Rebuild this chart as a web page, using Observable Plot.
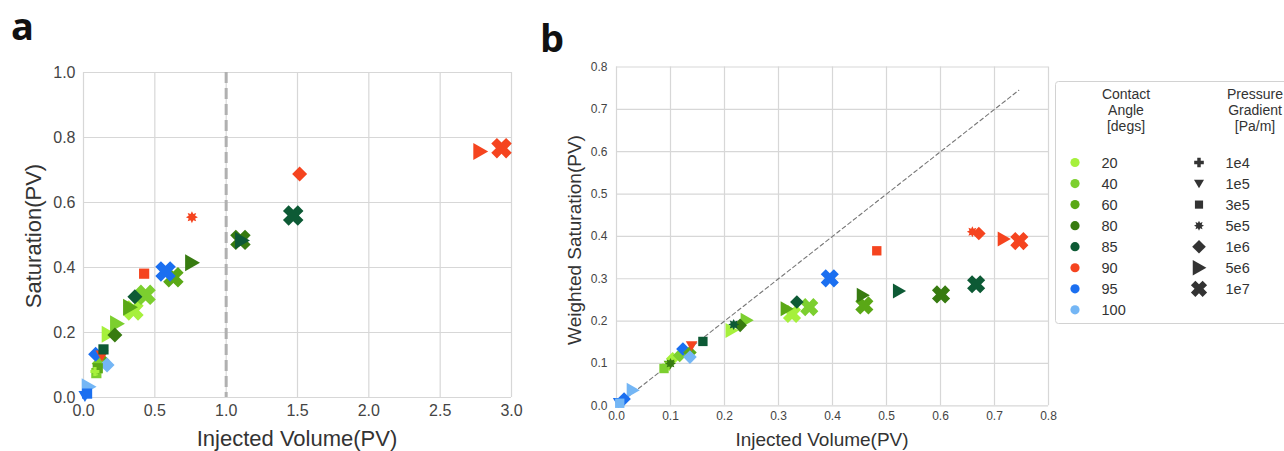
<!DOCTYPE html>
<html><head><meta charset="utf-8">
<script src="https://cdn.jsdelivr.net/npm/d3@7"></script>
<script src="https://cdn.jsdelivr.net/npm/@observablehq/plot@0.6"></script>
<style>
body{margin:0;background:#fff;}
#root{position:relative;width:1284px;height:451px;overflow:hidden;font-family:"Liberation Sans",Arial,sans-serif;color:#222;}
.abs{position:absolute;}
.tag{font-family:"Open Sans","DejaVu Sans",sans-serif;font-weight:700;font-size:38px;line-height:1;color:#111;}
.title{white-space:nowrap;transform-origin:center center;color:#333;}
</style></head><body><div id="root"></div>
<script>
// ---------------- data ----------------
const angles = [20, 40, 60, 80, 85, 90, 95, 100];
const angleColors = ["#a6f03c", "#7ccf2f", "#5aa816", "#377b10", "#0d5a35", "#f5441f", "#1b6ff0", "#74b6f5"];
const pressures = ["1e4", "1e5", "3e5", "5e5", "1e6", "5e6", "1e7"];

// panel a: injected volume vs saturation
const aAngle =    [40,   20,   60,   95,   100,  95,   60,   40,   20,   100,  95,   90,   85,   80,   20,   40,   85,   20,   60,   40,   60,   95,   90,   80,   85,   80,   85,   90,   90,   90];
const aPressure = ["3e5","5e5","3e5","3e5","5e6","1e5","1e6","1e6","1e4","1e6","1e6","1e5","3e5","1e6","5e6","5e6","1e6","1e7","5e6","1e7","1e7","1e7","3e5","5e6","5e6","1e7","1e7","5e5","1e6","5e6"];
const aX =        [0.09, 0.095,0.10, 0.025,0.035,0.01, 0.13, 0.11, 0.08, 0.165,0.085,0.13, 0.14, 0.22, 0.175,0.234,0.36, 0.35, 0.325,0.435,0.63, 0.575,0.425,0.76, 1.11, 1.10, 1.47, 0.76, 1.515,2.78];
const aY =        [0.075,0.085,0.09, 0.012,0.033,0.005,0.115,0.105,0.08, 0.10, 0.133,0.13, 0.148,0.192,0.195,0.227,0.31, 0.268,0.278,0.316,0.37, 0.388,0.381,0.415,0.483,0.485,0.56, 0.555,0.688,0.757];
const aX2 = [2.93], aY2 = [0.767], aAngle2 = [90], aPressure2 = ["1e7"];

// panel b: injected volume vs weighted saturation
const bAngle =    [100,  95,   95,   100,  20,   40,   60,   80,   20,   40,   95,   60,   100,  90,   85,   20,   85,   80,   40,   85,   20,   60,   40,   60,   80,   85,   95,   90,   80,   85,   90,   90,   90,   90];
const bPressure = ["3e5","1e5","1e6","5e6","5e5","3e5","1e5","5e5","1e6","1e6","1e6","1e6","1e6","1e5","3e5","5e6","5e5","1e6","5e6","1e6","1e7","5e6","1e7","1e7","5e6","5e6","1e7","3e5","1e7","1e7","5e5","1e6","5e6","1e7"];
const bX =        [0.006,0.004,0.014,0.030,0.092,0.088,0.098,0.10, 0.104,0.117,0.123,0.136,0.136,0.139,0.160,0.213,0.217,0.229,0.241,0.334,0.325,0.315,0.357,0.459,0.456,0.523,0.395,0.482,0.601,0.666,0.659,0.671,0.717,0.746];
const bY =        [0.006,0.008,0.016,0.037,0.092,0.088,0.096,0.10, 0.111,0.119,0.134,0.126,0.115,0.142,0.152,0.178,0.192,0.190,0.202,0.245,0.217,0.229,0.233,0.237,0.261,0.271,0.301,0.366,0.263,0.287,0.411,0.407,0.394,0.389];
const diagLine = [0, 0.745];

const ticksAX = [0, 0.5, 1, 1.5, 2, 2.5, 3];
const ticksAY = [0, 0.2, 0.4, 0.6, 0.8, 1];
const ticksB = [0, 0.1, 0.2, 0.3, 0.4, 0.5, 0.6, 0.7, 0.8];
const guideA = [1];

// ---------------- symbols ----------------
function poly(pts) {
  return {draw(ctx, size) {
    const r = Math.sqrt(size / Math.PI);
    pts.forEach(([x, y], i) => i ? ctx.lineTo(x * r, y * r) : ctx.moveTo(x * r, y * r));
    ctx.closePath();
  }};
}
function plusPts(h) {
  return [[-h,-1],[h,-1],[h,-h],[1,-h],[1,h],[h,h],[h,1],[-h,1],[-h,h],[-1,h],[-1,-h],[-h,-h]];
}
const rot = ([x, y]) => [(x - y) / Math.SQRT2, (x + y) / Math.SQRT2];
function starPts(n, inner) {
  const p = [];
  for (let i = 0; i < 2 * n; i++) {
    const a = Math.PI * i / n - Math.PI / 2, rr = i % 2 ? inner : 1;
    p.push([Math.cos(a) * rr, Math.sin(a) * rr]);
  }
  return p;
}
const symbolObjs = [
  poly(plusPts(0.36)),                                  // 1e4 plus
  poly([[-1,-0.75],[1,-0.75],[0,0.95]]),                 // 1e5 triangle down
  poly([[-.85,-.85],[.85,-.85],[.85,.85],[-.85,.85]]),   // 3e5 square
  poly(starPts(8, 0.58)),                                // 5e5 star
  poly([[0,-1],[1,0],[0,1],[-1,0]]),                     // 1e6 diamond
  poly([[-0.8,-1],[0.95,0],[-0.8,1]]),                   // 5e6 triangle right
  poly(plusPts(0.38).map(rot))                           // 1e7 X
];
const sizeA = {"1e4":4.5,"1e5":6.5,"3e5":6,"5e5":6,"1e6":7.5,"5e6":8.5,"1e7":10.5};
const sizeB = {"1e4":4,"1e5":5.8,"3e5":5.5,"5e5":5.5,"1e6":6.8,"5e6":7.5,"1e7":9.3};

const rows = (X, Y, A, P) => X.map((x, i) => ({x, y: Y[i], angle: A[i], p: P[i]}));
const dataA = rows(aX, aY, aAngle, aPressure).concat(rows(aX2, aY2, aAngle2, aPressure2));
const dataB = rows(bX, bY, bAngle, bPressure);

const font = "Liberation Sans, Arial, sans-serif";
const root = document.getElementById("root");

// ---------------- panel a ----------------
const plotA = Plot.plot({
  width: 520, height: 451,
  marginLeft: 83, marginRight: 9, marginTop: 72, marginBottom: 54,
  style: {fontFamily: font, background: "transparent", overflow: "visible"},
  x: {domain: [0, 3]},
  y: {domain: [0, 1]},
  color: {domain: angles, range: angleColors},
  symbol: {domain: pressures, range: symbolObjs},
  r: {type: "identity"},
  marks: [
    Plot.gridX(ticksAX, {stroke: "#d7d7d7", strokeOpacity: 1, strokeWidth: 1.2}),
    Plot.gridY(ticksAY, {stroke: "#d7d7d7", strokeOpacity: 1, strokeWidth: 1.2}),
    Plot.axisX(ticksAX, {tickSize: 0, tickPadding: 7, fontSize: 16, color: "#444", tickFormat: d3.format(".1f"), label: null}),
    Plot.axisY(ticksAY, {tickSize: 0, tickPadding: 8, fontSize: 16, color: "#444", tickFormat: d3.format(".1f"), label: null}),
    Plot.ruleX(guideA, {stroke: "#b0b0b0", strokeWidth: 3, strokeDasharray: "11,5"}),
    Plot.dot(dataA, {x: "x", y: "y", fill: "angle", symbol: "p", r: d => sizeA[d.p]})
  ]
});
plotA.style.position = "absolute"; plotA.style.left = "0px"; plotA.style.top = "0px";
root.appendChild(plotA);

// ---------------- panel b ----------------
const plotB = Plot.plot({
  width: 540, height: 451,
  marginLeft: 96, marginRight: 12, marginTop: 66.5, marginBottom: 45.7,
  style: {fontFamily: font, background: "transparent", overflow: "visible"},
  x: {domain: [0, 0.8]},
  y: {domain: [0, 0.8]},
  color: {domain: angles, range: angleColors},
  symbol: {domain: pressures, range: symbolObjs},
  r: {type: "identity"},
  marks: [
    Plot.gridX(ticksB, {stroke: "#d7d7d7", strokeOpacity: 1, strokeWidth: 1.2}),
    Plot.gridY(ticksB, {stroke: "#d7d7d7", strokeOpacity: 1, strokeWidth: 1.2}),
    Plot.axisX(ticksB, {tickSize: 0, tickPadding: 6, fontSize: 12, color: "#444", tickFormat: d3.format(".1f"), label: null}),
    Plot.axisY(ticksB, {tickSize: 0, tickPadding: 9, fontSize: 12, color: "#444", tickFormat: d3.format(".1f"), label: null}),
    Plot.line(diagLine, {x: d => d, y: d => d, stroke: "#777", strokeWidth: 1.1, strokeDasharray: "4,3"}),
    Plot.dot(dataB, {x: "x", y: "y", fill: "angle", symbol: "p", r: d => sizeB[d.p]})
  ]
});
plotB.style.position = "absolute"; plotB.style.left = "520px"; plotB.style.top = "0px";
root.appendChild(plotB);

// ---------------- text ----------------
function addText(txt, cls, css) {
  const d = document.createElement("div");
  d.className = "abs " + cls; d.textContent = txt;
  Object.assign(d.style, css);
  root.appendChild(d);
  return d;
}
addText("a", "tag", {left: "11px", top: "6px"});
addText("b", "tag", {left: "540px", top: "18px"});
addText("Saturation(PV)", "title", {left: "34px", top: "236px", fontSize: "22px", transform: "translate(-50%,-50%) rotate(-90deg)"});
addText("Injected Volume(PV)", "title", {left: "297px", top: "439px", fontSize: "22px", transform: "translate(-50%,-50%)"});
addText("Weighted Saturation(PV)", "title", {left: "575px", top: "240px", fontSize: "19px", transform: "translate(-50%,-50%) rotate(-90deg)"});
addText("Injected Volume(PV)", "title", {left: "822px", top: "440px", fontSize: "19px", transform: "translate(-50%,-50%)"});

// ---------------- legend ----------------
const lg = d3.select(root).append("svg")
  .attr("width", 240).attr("height", 245)
  .style("position", "absolute").style("left", "1055px").style("top", "81px")
  .style("font-family", font);
lg.append("rect").attr("x", 0.5).attr("y", 0.5).attr("width", 260).attr("height", 242)
  .attr("rx", 3).attr("fill", "#fff").attr("stroke", "#d2d2d2");
const head = (lines, cx) => lines.forEach((t, i) =>
  lg.append("text").attr("x", cx).attr("y", 18 + i * 16).attr("text-anchor", "middle")
    .attr("font-size", 14).attr("fill", "#333").text(t));
head(["Contact", "Angle", "[degs]"], 71);
head(["Pressure", "Gradient", "[Pa/m]"], 200);
const rowY = i => 81.5 + i * 21.05;
angles.forEach((a, i) => {
  lg.append("circle").attr("cx", 20).attr("cy", rowY(i)).attr("r", 4.6).attr("fill", angleColors[i]);
  lg.append("text").attr("x", 46.5).attr("y", rowY(i) + 5).attr("font-size", 14.5).attr("fill", "#333").text(a);
});
const legR = [4.8, 5, 4.8, 5, 6.8, 7.8, 8.3];
pressures.forEach((p, i) => {
  lg.append("path").attr("transform", `translate(144,${rowY(i)})`)
    .attr("d", d3.symbol().type(symbolObjs[i]).size(Math.PI * legR[i] * legR[i])())
    .attr("fill", "#333");
  lg.append("text").attr("x", 170.5).attr("y", rowY(i) + 5).attr("font-size", 14.5).attr("fill", "#333").text(p);
});
</script></body></html>
